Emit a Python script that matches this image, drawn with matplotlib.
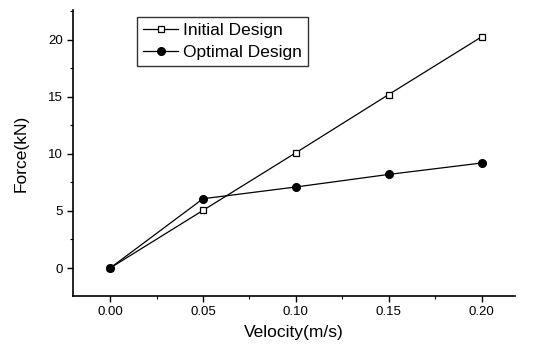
import matplotlib.pyplot as plt
from matplotlib.ticker import MultipleLocator

plt.rcParams['font.family'] = ['Liberation Sans', 'DejaVu Sans']

# Data
velocity = [0.00, 0.05, 0.10, 0.15, 0.20]
initial_force = [0.0, 5.05, 10.1, 15.2, 20.25]
optimal_force = [0.0, 6.07, 7.1, 8.2, 9.2]

fig = plt.figure(figsize=(5.49, 3.47), dpi=100)
ax = fig.add_axes([0.133, 0.147, 0.805, 0.824])

ax.plot(velocity, initial_force, color='black', lw=0.9, marker='s', ms=5,
        mfc='white', mec='black', mew=0.9, label='Initial Design', zorder=3)
ax.plot(velocity, optimal_force, color='black', lw=0.9, marker='o', ms=5.5,
        mfc='black', mec='black', label='Optimal Design', zorder=3)

ax.set_xlim(-0.02, 0.218)
ax.set_ylim(-2.45, 22.6)
ax.xaxis.set_minor_locator(MultipleLocator(0.025))
ax.yaxis.set_major_locator(MultipleLocator(5))
ax.yaxis.set_minor_locator(MultipleLocator(2.5))
ax.set_xticks([0, 0.05, 0.10, 0.15, 0.20])
ax.set_xticklabels(['0.00', '0.05', '0.10', '0.15', '0.20'])

ax.spines['top'].set_visible(False)
ax.spines['right'].set_visible(False)
ax.spines['left'].set_linewidth(1.2)
ax.spines['bottom'].set_linewidth(1.2)
ax.tick_params(which='major', direction='out', length=4, width=1, labelsize=9.5)
ax.tick_params(which='minor', direction='out', length=2.5, width=0.8)

ax.set_xlabel('Velocity(m/s)', fontsize=12.5, labelpad=5)
ax.set_ylabel('Force(kN)', fontsize=12.5, labelpad=14)

leg = ax.legend(loc='upper left', bbox_to_anchor=(0.145, 0.975), frameon=True,
                fancybox=False, edgecolor='black', fontsize=12.5,
                handlelength=2.0, borderpad=0.35, labelspacing=0.35,
                handletextpad=0.3, borderaxespad=0)
leg.get_frame().set_linewidth(1.0)

fig.savefig('out.png', dpi=100)
